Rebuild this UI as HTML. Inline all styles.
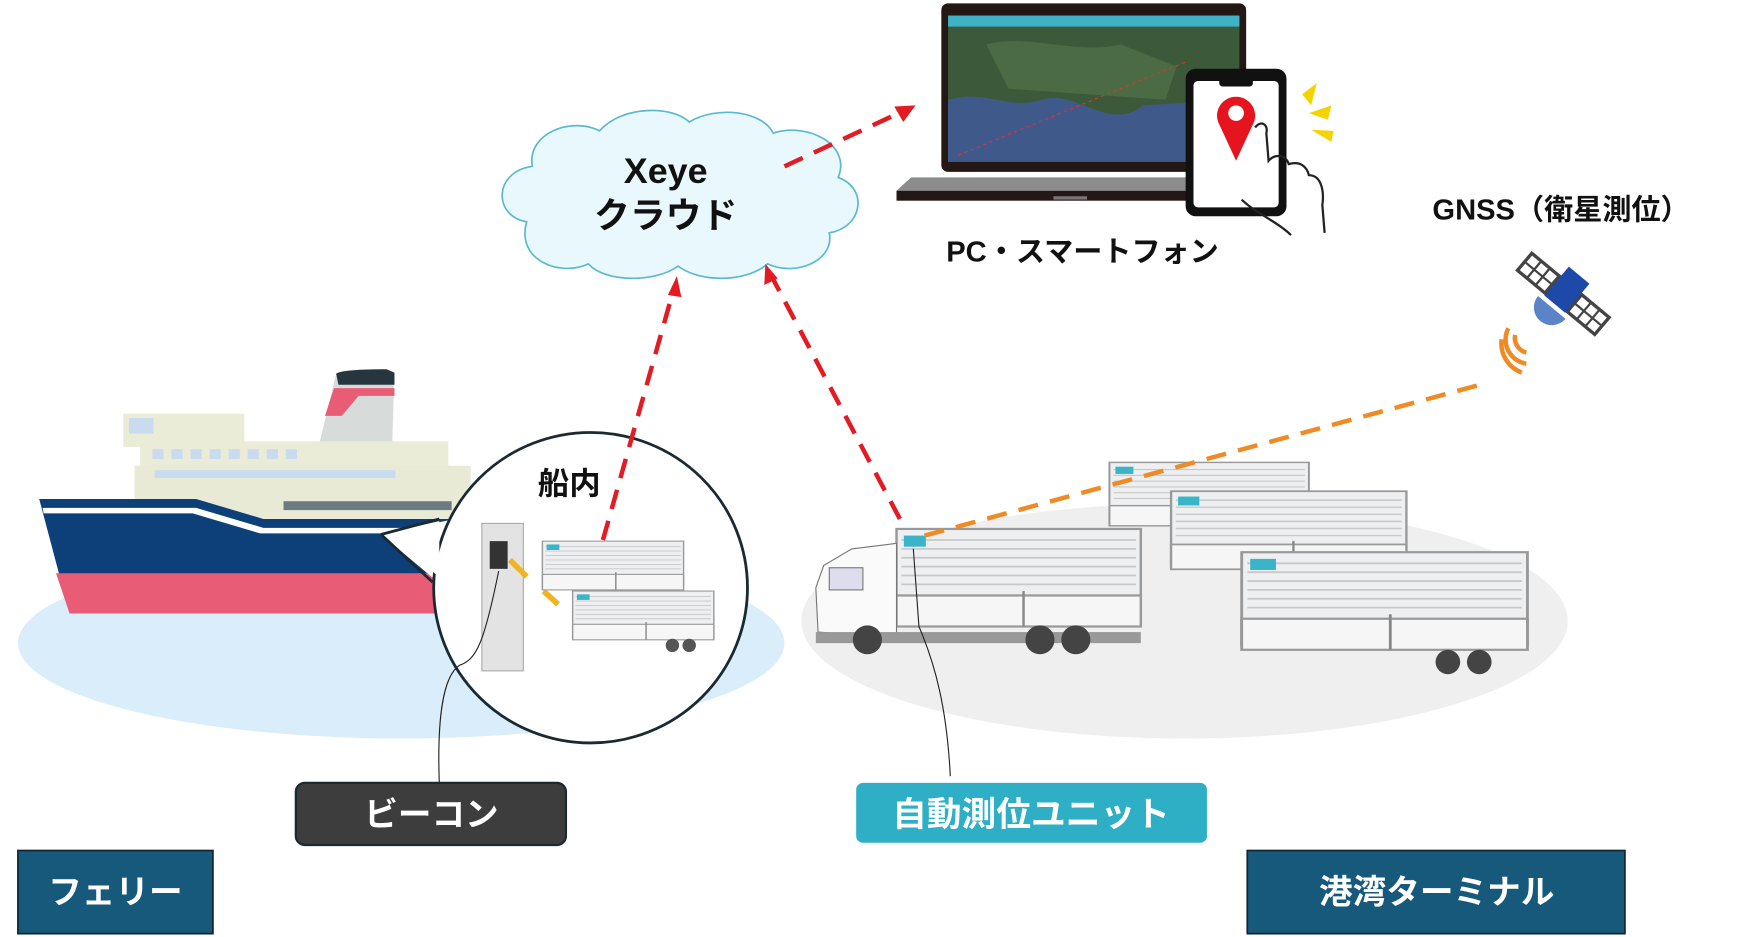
<!DOCTYPE html>
<html><head><meta charset="utf-8"><style>
html,body{margin:0;padding:0;background:#fff;width:1737px;height:937px;overflow:hidden}
svg{display:block}
text{font-family:"Liberation Sans","Noto Sans CJK JP",sans-serif;font-weight:bold}
</style></head><body>
<svg width="1737" height="937" viewBox="0 0 1550 845" preserveAspectRatio="none" xmlns="http://www.w3.org/2000/svg">
<defs>
<g id="trl">
<rect x="0" y="0" width="100" height="42" fill="#eeeff1" stroke="#999" stroke-width="1"/>
<g stroke="#c8c8c8" stroke-width="0.8">
<line x1="2" y1="5" x2="98" y2="5"/><line x1="2" y1="9" x2="98" y2="9"/><line x1="2" y1="13" x2="98" y2="13"/><line x1="2" y1="17" x2="98" y2="17"/><line x1="2" y1="21" x2="98" y2="21"/><line x1="2" y1="25" x2="98" y2="25"/>
</g>
<rect x="3" y="3" width="9" height="5" fill="#3ab4c8"/>
<rect x="0" y="30" width="100" height="14" fill="#f6f6f6" stroke="#999" stroke-width="1"/>
<line x1="52" y1="28" x2="52" y2="44" stroke="#888"/>
</g>
</defs>
<!-- water / ground -->
<ellipse cx="358" cy="580" rx="342" ry="86" fill="#d9eefa"/>
<ellipse cx="1057" cy="560" rx="342" ry="106" fill="#efefef"/>
<!-- ship superstructure -->
<rect x="110" y="373" width="108" height="30" fill="#ebecd8"/>
<rect x="115" y="377" width="22" height="14" fill="#c9dcef"/>
<polygon points="285,400 300,337 352,337 350,400" fill="#d7dcda"/>
<path d="M300,337 Q305,333 345,333 L352,336 L352,347 L302,347 Z" fill="#27353e"/>
<polygon points="298,350 352,350 352,357 320,357 305,375 290,375" fill="#e85c75"/>
<rect x="125" y="398" width="275" height="67" fill="#ebecd8"/>
<rect x="120" y="420" width="300" height="48" fill="#e9ead5"/>
<g fill="#c9dcef"><rect x="136" y="405" width="10" height="9"/><rect x="153" y="405" width="10" height="9"/><rect x="170" y="405" width="10" height="9"/><rect x="187" y="405" width="10" height="9"/><rect x="204" y="405" width="10" height="9"/><rect x="221" y="405" width="10" height="9"/><rect x="238" y="405" width="10" height="9"/><rect x="255" y="405" width="10" height="9"/></g>
<rect x="138" y="424" width="215" height="7" fill="#c9dcef"/>
<rect x="253" y="452" width="150" height="8" fill="#6c7a82"/>
<!-- hull -->
<polygon points="35,450 175,450 235,468 400,468 400,553 62,553" fill="#0d3f78"/>
<polygon points="38,458 175,458 235,476 400,476 400,481 232,481 172,463 39,463" fill="#fff"/>
<polygon points="50,517 400,517 400,553 62,553" fill="#e85c75"/>
<!-- circle callout -->
<polygon points="340,482 420,465 420,540 385,520" fill="#fff"/>
<ellipse cx="527" cy="530" rx="140" ry="140" fill="#fff" stroke="#1a2a33" stroke-width="2.5"/>
<polygon points="340,482 392,470 392,520" fill="#fff"/>
<path d="M340,482 L392,468 M340,482 L386,525" stroke="#1a2a33" stroke-width="2.5" fill="none"/>
<text x="508" y="446" font-size="28" text-anchor="middle" fill="#111">船内</text>
<!-- beacon -->
<rect x="430" y="472" width="37" height="133" fill="#e3e3e3" stroke="#aaa"/>
<rect x="437" y="488" width="16" height="25" fill="#333"/>
<line x1="455" y1="505" x2="470" y2="520" stroke="#f2b321" stroke-width="5"/>
<line x1="485" y1="533" x2="498" y2="545" stroke="#f2b321" stroke-width="5"/>
<use href="#trl" x="484" y="488" transform="translate(484,488) scale(1.26,1) translate(-484,-488)"/>
<use href="#trl" x="511" y="533" transform="translate(511,533) scale(1.26,1) translate(-511,-533)"/>
<circle cx="600" cy="582" r="6" fill="#555"/><circle cx="615" cy="582" r="6" fill="#555"/>
<path d="M392,706 C390,650 395,610 410,600 C425,595 432,580 445,515" stroke="#222" stroke-width="1" fill="none"/>
<!-- labels -->
<rect x="264" y="706" width="241" height="56" rx="8" fill="#3d3d3d" stroke="#1a2a33" stroke-width="2"/>
<text x="385" y="745" font-size="30" text-anchor="middle" fill="#fff">ビーコン</text>
<rect x="16" y="767" width="174" height="75" fill="#17597a" stroke="#123" stroke-width="1.5"/>
<text x="103" y="815" font-size="30" text-anchor="middle" fill="#fff">フェリー</text>
<!-- cloud -->
<path d="M470,200 C440,195 440,155 475,150 C470,120 510,105 535,118 C555,95 600,95 615,110 C640,95 680,100 690,120 C720,110 760,130 748,160 C775,170 770,205 740,210 C745,235 710,250 685,238 C665,255 625,255 605,240 C585,255 540,255 525,238 C500,250 460,235 470,200 Z" fill="#e9f8fc" stroke="#5ab8d0" stroke-width="1.5"/>
<text x="594" y="165" font-size="32" text-anchor="middle" fill="#111">Xeye</text>
<text x="594" y="205" font-size="32" text-anchor="middle" fill="#111">クラウド</text>
<!-- laptop -->
<rect x="840" y="3" width="272" height="152" rx="6" fill="#231815"/>
<rect x="846" y="14" width="260" height="132" fill="#3c5a3a"/>
<rect x="846" y="14" width="260" height="10" fill="#3fb3c5"/>
<path d="M846,90 C880,80 900,100 930,90 C960,80 990,120 1020,95 L1106,90 L1106,146 L846,146 Z" fill="#3f5a8a"/>
<path d="M880,40 C920,30 960,50 1000,40 L1050,60 L1040,90 L900,80 Z" fill="#4a6b44"/>
<line x1="855" y1="140" x2="1060" y2="55" stroke="#d33" stroke-width="1" stroke-dasharray="3 3"/>
<polygon points="813,160 1100,160 1112,172 800,172" fill="#8c8c8c"/>
<rect x="800" y="172" width="312" height="9" fill="#231815"/>
<rect x="940" y="177" width="30" height="3" fill="#777"/>
<!-- phone -->
<rect x="1058" y="62" width="90" height="133" rx="9" fill="#111"/>
<rect x="1065" y="73" width="76" height="114" rx="4" fill="#fff"/>
<rect x="1088" y="70" width="30" height="8" rx="3" fill="#111"/>
<path d="M1103,145 L1087,110 A17,17 0 1 1 1119,110 Z" fill="#e6141e"/>
<circle cx="1103" cy="102" r="7" fill="#fff"/>
<path d="M1120,115 C1125,108 1132,112 1130,120 L1132,145 C1138,138 1148,140 1150,148 C1160,145 1166,150 1168,158 C1178,158 1182,170 1180,185 L1182,210 M1108,180 C1120,192 1140,200 1152,212" stroke="#222" stroke-width="2" fill="none"/>
<polygon points="1162,85 1175,75 1170,95" fill="#f5d300"/>
<polygon points="1168,102 1188,95 1185,108" fill="#f5d300"/>
<polygon points="1170,117 1190,118 1188,128" fill="#f5d300"/>
<text x="966" y="236" font-size="26" text-anchor="middle" fill="#111">PC・スマートフォン</text>
<text x="1393" y="198" font-size="26" text-anchor="middle" fill="#111">GNSS（衛星測位）</text>
<!-- satellite -->
<g transform="translate(1395,265) rotate(40)">
<rect x="-45" y="-10" width="32" height="20" fill="#fff" stroke="#444" stroke-width="3"/>
<line x1="-34" y1="-10" x2="-34" y2="10" stroke="#444" stroke-width="2"/><line x1="-24" y1="-10" x2="-24" y2="10" stroke="#444" stroke-width="2"/><line x1="-45" y1="0" x2="-13" y2="0" stroke="#444" stroke-width="2"/>
<rect x="13" y="-10" width="32" height="20" fill="#fff" stroke="#444" stroke-width="3"/>
<line x1="24" y1="-10" x2="24" y2="10" stroke="#444" stroke-width="2"/><line x1="34" y1="-10" x2="34" y2="10" stroke="#444" stroke-width="2"/><line x1="13" y1="0" x2="45" y2="0" stroke="#444" stroke-width="2"/>
<rect x="-12" y="-22" width="24" height="34" fill="#1d4aa8"/>
<path d="M-16,16 A16,16 0 0 0 16,16 Z" fill="#5a83c8"/>
</g>
<path d="M1352,302 A14,14 0 0 0 1362,318 M1346,296 A22,22 0 0 0 1362,328 M1340,306 A28,28 0 0 0 1358,336" stroke="#ef8a24" stroke-width="4" fill="none"/>
<!-- trucks -->
<use href="#trl" transform="translate(990,417) scale(1.78,1.3)"/>
<use href="#trl" transform="translate(1045,443) scale(2.1,1.6)"/>
<use href="#trl" transform="translate(1108,498) scale(2.55,2)"/>
<circle cx="1292" cy="597" r="11" fill="#444"/><circle cx="1320" cy="597" r="11" fill="#444"/>
<use href="#trl" transform="translate(800,477) scale(2.18,2)"/>
<path d="M800,490 L760,495 L735,510 L728,530 L730,570 L800,575 Z" fill="#fafafa" stroke="#777"/>
<rect x="740" y="512" width="30" height="20" fill="#dde" stroke="#777"/>
<rect x="728" y="570" width="290" height="10" fill="#999"/>
<circle cx="774" cy="577" r="13" fill="#444"/><circle cx="928" cy="577" r="13" fill="#444"/><circle cx="960" cy="577" r="13" fill="#444"/>
<path d="M848,700 C845,640 835,600 820,565 L815,495" stroke="#222" stroke-width="1" fill="none"/>
<!-- arrows -->
<g stroke="#e31b23" stroke-width="4" stroke-dasharray="18 11" fill="none">
<line x1="700" y1="150" x2="800" y2="103"/>
<line x1="538" y1="487" x2="600" y2="265"/>
<line x1="803" y1="468" x2="690" y2="252"/>
</g>
<polygon points="817,95 798,96 806,110" fill="#e31b23"/>
<polygon points="604,249 596,266 608,268" fill="#e31b23"/>
<polygon points="683,238 682,257 694,251" fill="#e31b23"/>
<line x1="825" y1="483" x2="1328" y2="345" stroke="#ef8a24" stroke-width="4" stroke-dasharray="18 11"/>
<!-- bottom labels -->
<rect x="764" y="706" width="313" height="54" rx="6" fill="#2eafc6"/>
<text x="920" y="745" font-size="31" text-anchor="middle" fill="#fff">自動測位ユニット</text>
<rect x="1113" y="767" width="337" height="75" fill="#17597a" stroke="#123" stroke-width="1.5"/>
<text x="1282" y="815" font-size="30" text-anchor="middle" fill="#fff">港湾ターミナル</text>
</svg>
</body></html>
